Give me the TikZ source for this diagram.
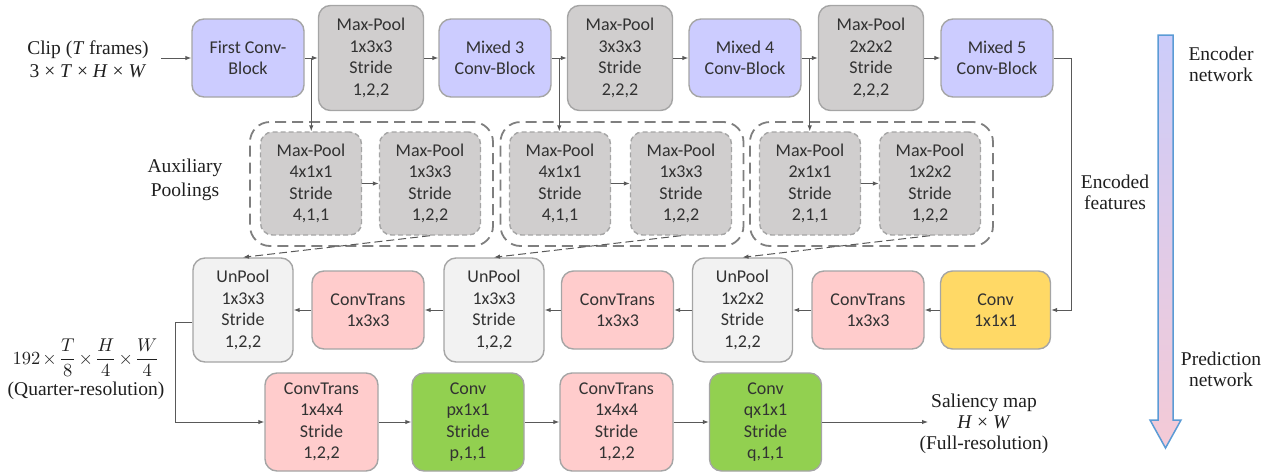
\documentclass[tikz,border=0pt]{standalone}
\usepackage{graphicx}
\usepackage{fontspec}
\setmainfont{Liberation Serif}
\newfontfamily\boxfont{Carlito}
\usetikzlibrary{arrows.meta,calc}
\definecolor{convblue}{RGB}{204,204,255}
\definecolor{poolgray}{RGB}{208,206,206}
\definecolor{unpoolgray}{RGB}{242,242,242}
\definecolor{transpink}{RGB}{255,204,204}
\definecolor{convyellow}{RGB}{255,217,102}
\definecolor{convgreen}{RGB}{146,208,80}
\definecolor{edgegray}{RGB}{165,165,165}
\definecolor{grpgray}{RGB}{127,127,127}
\definecolor{linegray}{RGB}{89,89,89}
\definecolor{txtgray}{RGB}{50,50,50}
\definecolor{arrowblue}{RGB}{91,155,213}
\definecolor{arrtop}{RGB}{204,204,250}
\definecolor{arrbot}{RGB}{244,202,214}
\begin{document}
\begin{tikzpicture}[x=1pt,y=-1pt,
  blk/.style={draw=edgegray, line width=1.4pt, rounded corners=12pt, align=center,
    font=\boxfont\fontsize{18}{21.5}\selectfont, text=txtgray, inner sep=0pt},
  convblk/.style={blk, fill=convblue, minimum width=112pt, minimum height=78pt},
  poolblk/.style={blk, fill=poolgray, minimum width=105pt, minimum height=105pt},
  auxblk/.style={blk, fill=poolgray, dash pattern=on 5pt off 3pt, minimum width=101pt, minimum height=103pt},
  grp/.style={draw=grpgray, line width=1.8pt, dash pattern=on 11pt off 6pt, rounded corners=20pt,
    minimum width=243pt, minimum height=124pt, inner sep=0pt},
  unpool/.style={blk, fill=unpoolgray, minimum width=100pt, minimum height=104pt},
  trans/.style={blk, fill=transpink, minimum width=112pt, minimum height=78pt},
  transbig/.style={blk, fill=transpink, minimum width=113pt, minimum height=98pt},
  greenblk/.style={blk, fill=convgreen, minimum width=112pt, minimum height=98pt},
  yellowblk/.style={blk, fill=convyellow, minimum width=110pt, minimum height=78pt},
  arr/.style={draw=linegray, line width=1pt, -{Latex[length=6pt,width=4.5pt]}},
  darr/.style={arr, dash pattern=on 8pt off 4pt},
  lbl/.style={align=center, font=\fontsize{19.5}{21}\selectfont, text=black!88, inner sep=0pt}
]
\useasboundingbox (0,0) rectangle (1268,474);

% ---------- encoder row ----------
\node[lbl] (clip) at (88,59) {Clip (\textit{T} frames)\\[2pt]3 × \textit{T} × \textit{H} × \textit{W}};
\node[convblk] (fc) at (248,58) {First Conv-\\Block};
\node[poolblk] (mp1) at (371,58) {Max-Pool\\1x3x3\\Stride\\1,2,2};
\node[convblk] (m3) at (495,58) {Mixed 3\\Conv-Block};
\node[poolblk] (mp2) at (620,58) {Max-Pool\\3x3x3\\Stride\\2,2,2};
\node[convblk] (m4) at (745,58) {Mixed 4\\Conv-Block};
\node[poolblk] (mp3) at (871,58) {Max-Pool\\2x2x2\\Stride\\2,2,2};
\node[convblk] (m5) at (997,58) {Mixed 5\\Conv-Block};

\coordinate (cs) at (161,58);
\draw[arr] (cs) -- (fc.west);
\draw[arr] (fc.east) -- (mp1.west);
\draw[arr] (mp1.east) -- (m3.west);
\draw[arr] (m3.east) -- (mp2.west);
\draw[arr] (mp2.east) -- (m4.west);
\draw[arr] (m4.east) -- (mp3.west);
\draw[arr] (mp3.east) -- (m5.west);

\coordinate (j1) at ($(fc.east)!0.5!(mp1.west)$);
\coordinate (j2) at ($(m3.east)!0.5!(mp2.west)$);
\coordinate (j3) at ($(m4.east)!0.5!(mp3.west)$);

% ---------- auxiliary poolings ----------
\node[lbl] (aux) at (185,180) {Auxiliary\\[3pt]Poolings};
\node[grp] (g1) at (371.5,184) {};
\node[grp] (g2) at (622,184) {};
\node[grp] (g3) at (871.5,184) {};
\node[auxblk] (a1) at (311,183.5) {Max-Pool\\4x1x1\\Stride\\4,1,1};
\node[auxblk] (a2) at (430,183.5) {Max-Pool\\1x3x3\\Stride\\1,2,2};
\node[auxblk] (a3) at (560,183.5) {Max-Pool\\4x1x1\\Stride\\4,1,1};
\node[auxblk] (a4) at (681,183.5) {Max-Pool\\1x3x3\\Stride\\1,2,2};
\node[auxblk] (a5) at (810,183.5) {Max-Pool\\2x1x1\\Stride\\2,1,1};
\node[auxblk] (a6) at (930,183.5) {Max-Pool\\1x2x2\\Stride\\1,2,2};

\draw[arr] (j1) -- (j1 |- a1.north);
\draw[arr] (j2) -- (j2 |- a3.north);
\draw[arr] (j3) -- (j3 |- a5.north);
\draw[arr] (a1.east) -- (a2.west);
\draw[arr] (a3.east) -- (a4.west);
\draw[arr] (a5.east) -- (a6.west);

% ---------- decoder row ----------
\node[unpool] (u1) at (243,310) {UnPool\\1x3x3\\Stride\\1,2,2};
\node[trans] (t1) at (368,310) {ConvTrans\\1x3x3};
\node[unpool] (u2) at (494,310) {UnPool\\1x3x3\\Stride\\1,2,2};
\node[trans] (t2) at (617.5,310) {ConvTrans\\1x3x3};
\node[unpool] (u3) at (742.5,310) {UnPool\\1x2x2\\Stride\\1,2,2};
\node[trans] (t3) at (868,310) {ConvTrans\\1x3x3};
\node[yellowblk] (cv) at (995.5,310) {Conv\\1x1x1};

\draw[darr] (a2.south) -- (u1.north);
\draw[darr] (a4.south) -- (u2.north);
\draw[darr] (a6.south) -- (u3.north);

\node[lbl] (encf) at (1115,192) {Encoded\\features};
\coordinate (e1) at (1071,58);
\coordinate (e2) at (1071,310);
\draw[arr] (m5.east) -- (e1) -- (e2) -- (cv.east);

\draw[arr] (cv.west) -- (t3.east);
\draw[arr] (t3.west) -- (u3.east);
\draw[arr] (u3.west) -- (t2.east);
\draw[arr] (t2.west) -- (u2.east);
\draw[arr] (u2.west) -- (t1.east);
\draw[arr] (t1.west) -- (u1.east);

% ---------- final row ----------
\node[transbig] (b1) at (321.5,422) {ConvTrans\\1x4x4\\Stride\\1,2,2};
\node[greenblk] (b2) at (468,422) {Conv\\px1x1\\Stride\\p,1,1};
\node[transbig] (b3) at (616.5,422) {ConvTrans\\1x4x4\\Stride\\1,2,2};
\node[greenblk] (b4) at (765.5,422) {Conv\\qx1x1\\Stride\\q,1,1};

\node[lbl, font=\fontsize{10}{12}\selectfont] (form) at (86,358) {\scalebox{1.85}{$\displaystyle 192\mkern2mu{\times}\mkern2mu\frac{T}{8}\mkern2mu{\times}\mkern2mu\frac{H}{4}\mkern2mu{\times}\mkern2mu\frac{W}{4}$}};
\node[lbl] (quart) at (86,391) {(Quarter-resolution)};

\coordinate (q1) at (175,322);
\coordinate (q2) at (175,422);
\draw[arr] (u1.west |- q1) -- (q1) -- (q2) -- (b1.west);
\draw[arr] (b1.east) -- (b2.west);
\draw[arr] (b2.east) -- (b3.west);
\draw[arr] (b3.east) -- (b4.west);

\node[lbl] (sal) at (984,424) {Saliency map\\\textit{H} × \textit{W}\\(Full-resolution)};
\coordinate (se) at (928,422);
\draw[arr] (b4.east) -- (se);

% ---------- big arrow ----------
\shade[top color=arrtop, bottom color=arrbot, draw=arrowblue, line width=1.5pt]
  (1158,35) -- (1173,35) -- (1173,420) -- (1181,420) -- (1165.5,448) -- (1150,420) -- (1158,420) -- cycle;
\node[lbl] (encn) at (1221,64) {Encoder\\network};
\node[lbl] (predn) at (1221,369) {Prediction\\network};
\end{tikzpicture}
\end{document}
